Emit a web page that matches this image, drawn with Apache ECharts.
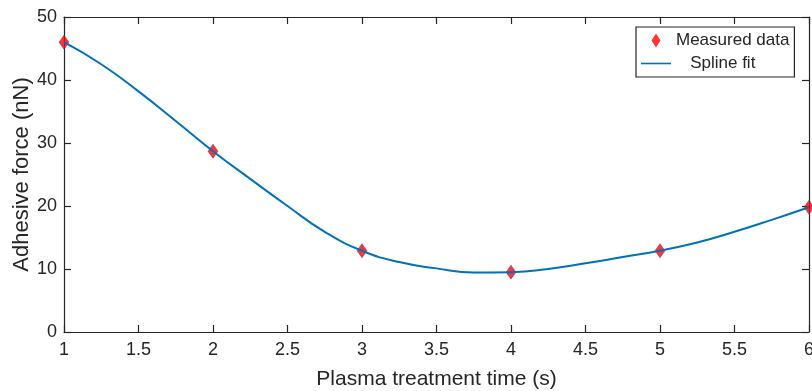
<!DOCTYPE html>
<html>
<head>
<meta charset="utf-8">
<script src="https://cdn.jsdelivr.net/npm/echarts@6/dist/echarts.min.js"></script>
<style>html,body{margin:0;padding:0;background:#fff}#c{width:812px;height:391px}</style>
</head>
<body>
<div id="c"></div>
<script>
// Measured data
var measuredX = [1, 2, 3, 4, 5, 6];
var measuredY = [46.0, 28.7, 12.9, 9.5, 12.9, 19.8];
// Spline fit
var splineX = [1, 1.25, 1.5, 1.75, 2, 2.25, 2.5, 2.75, 3, 3.25, 3.5, 3.75, 4, 4.25, 4.5, 4.75, 5, 5.25, 5.5, 5.75, 6];
var splineY = [46.0, 42.5, 38.2, 33.5, 28.7, 24.3, 20.0, 15.9, 12.9, 11.1, 10.1, 9.45, 9.5, 10.0, 10.9, 11.9, 12.9, 14.2, 15.9, 17.8, 19.8];
var xTicks = [1, 1.5, 2, 2.5, 3, 3.5, 4, 4.5, 5, 5.5, 6];
var yTicks = [0, 10, 20, 30, 40, 50];

var font = 'Liberation Sans, Arial, sans-serif';
var axisCol = '#262626';
function pairs(xs, ys){ return xs.map(function(x,i){ return [x, ys[i]]; }); }

var chart = echarts.init(document.getElementById('c'));
var common = {
  axisLine: {show: true, onZero: false, lineStyle: {color: axisCol, width: 1.2}},
  axisTick: {show: true, inside: true, length: 7, lineStyle: {color: axisCol, width: 1.2}},
  splitLine: {show: false}
};
chart.setOption({
  animation: false,
  backgroundColor: '#fff',
  grid: {left: 64, right: 3, top: 17, bottom: 59, containLabel: false, outerBoundsMode: 'none'},
  legend: {
    left: 636, top: 27,
    orient: 'vertical',
    borderColor: axisCol, borderWidth: 1.2,
    padding: [5, 5, 5, 5],
    itemGap: 6,
    itemWidth: 30, itemHeight: 14,
    symbolKeepAspect: true,
    textStyle: {fontFamily: font, fontSize: 17, color: axisCol},
    formatter: function(n){ return n === 'Spline fit' ? '   Spline fit' : n; },
    data: [
      {name: 'Measured data', icon: 'path://M0,-7L4.5,0L0,7L-4.5,0Z', itemStyle: {color: '#ff0000', borderWidth: 0}},
      {name: 'Spline fit', icon: 'path://M0,0L30,0L30,1.6L0,1.6Z', itemStyle: {color: '#0072BD', borderWidth: 0}}
    ]
  },
  xAxis: [
    Object.assign({}, common, {
      type: 'value', min: xTicks[0], max: xTicks[xTicks.length-1], interval: 0.5,
      position: 'bottom',
      name: 'Plasma treatment time (s)', nameLocation: 'middle', nameGap: 37, nameMoveOverlap: false,
      nameTextStyle: {fontFamily: font, fontSize: 21, color: axisCol},
      axisLabel: {show: true, margin: 9, fontFamily: font, fontSize: 18, color: axisCol,
        formatter: function(v){ return String(v); }}
    }),
    Object.assign({}, common, {
      type: 'value', min: xTicks[0], max: xTicks[xTicks.length-1], interval: 0.5,
      position: 'top', axisLabel: {show: false}
    })
  ],
  yAxis: [
    Object.assign({}, common, {
      type: 'value', min: yTicks[0], max: yTicks[yTicks.length-1], interval: 10,
      position: 'left',
      name: 'Adhesive force (nN)', nameLocation: 'middle', nameGap: 31, nameMoveOverlap: false,
      nameTextStyle: {fontFamily: font, fontSize: 22, color: axisCol},
      axisLabel: {show: true, margin: 7, fontFamily: font, fontSize: 18, color: axisCol}
    }),
    Object.assign({}, common, {
      type: 'value', min: yTicks[0], max: yTicks[yTicks.length-1], interval: 10,
      position: 'right', axisLabel: {show: false}
    })
  ],
  series: [
    {
      name: 'Measured data', type: 'scatter',
      data: pairs(measuredX, measuredY),
      symbol: 'diamond', symbolSize: [10, 14],
      itemStyle: {color: '#ff0000', borderColor: '#7a3050', borderWidth: 0.6},
      z: 2
    },
    {
      name: 'Spline fit', type: 'line',
      data: pairs(splineX, splineY),
      smooth: true, symbol: 'none',
      lineStyle: {color: '#0072BD', width: 2},
      itemStyle: {color: '#0072BD'},
      z: 3
    }
  ]
});
</script>
</body>
</html>
